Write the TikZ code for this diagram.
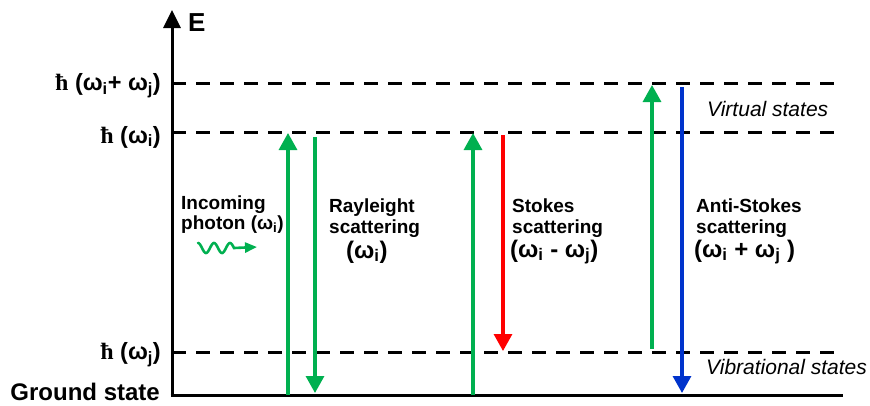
\documentclass[tikz,border=0pt]{standalone}
\usepackage{fontspec}
\setmainfont{Liberation Sans}
\newfontfamily\hbarfont{Liberation Serif}
\usetikzlibrary{arrows.meta}
\definecolor{ramangreen}{HTML}{00B050}
\definecolor{ramanred}{HTML}{FF0000}
\definecolor{ramanblue}{HTML}{0033CC}
\newcommand\lw[1]{\textsubscript{#1}}
\newcommand\hb{{\hbarfont\bfseries ħ}}
\tikzset{
  axisline/.style={line width=3pt},
  level/.style={line width=3pt, dash pattern=on 14pt off 10pt},
  trans/.style={line width=3.2pt, -{Triangle[length=17pt,width=18pt]}},
  lvllabel/.style={inner sep=0pt, anchor=east, font=\fontsize{23.5}{25}\selectfont\bfseries},
  lbl/.style={inner sep=0pt, anchor=base west, font=\fontsize{19}{21}\selectfont\bfseries},
  freq/.style={inner sep=0pt, anchor=west, font=\fontsize{24}{26}\selectfont\bfseries},
  statelbl/.style={inner sep=0pt, anchor=base west, font=\fontsize{21}{23}\selectfont\itshape},
}
\begin{document}
\begin{tikzpicture}[x=1pt,y=-1pt]
\useasboundingbox (0,0) rectangle (870,405);

% energy axis and ground state
\coordinate (origin) at (172,395);
\coordinate (axistop) at (172,10);
\coordinate (groundend) at (843,395);
\draw[axisline, -{Triangle[length=18pt,width=17pt]}] (origin) -- (axistop);
\draw[axisline] ([xshift=-1.5pt]origin) -- (groundend);
\node[inner sep=0pt, anchor=base west, font=\fontsize{26}{28}\selectfont\bfseries] (E) at (188,31) {E};

% energy levels
\coordinate (vsum) at (172,83);
\coordinate (vsumend) at (843,83);
\coordinate (vi) at (172,132);
\coordinate (viend) at (840,132);
\coordinate (vj) at (172,352);
\coordinate (vjend) at (843,352);
\draw[level] (vsum) -- (vsumend);
\draw[level] (vi) -- (viend);
\draw[level] (vj) -- (vjend);

\node[lvllabel] (lsum) at (161,86) {\hb\ (ω\lw{i}+ ω\lw{j})};
\node[lvllabel] (li) at (161,137) {\hb\ (ω\lw{i})};
\node[lvllabel] (lj) at (161,355) {\hb\ (ω\lw{j})};
\node[inner sep=0pt, anchor=base east, font=\fontsize{24}{26}\selectfont\bfseries] (ground) at (160,400) {Ground state};

% Rayleigh scattering
\coordinate (r1a) at (288,395);
\coordinate (r1b) at (288,133);
\coordinate (r2a) at (315,137);
\coordinate (r2b) at (315,393);
\draw[trans, ramangreen] (r1a) -- (r1b);
\draw[trans, ramangreen] (r2a) -- (r2b);

% Stokes scattering
\coordinate (s1a) at (473,395);
\coordinate (s1b) at (473,133);
\coordinate (s2a) at (503,135);
\coordinate (s2b) at (503,351);
\draw[trans, ramangreen] (s1a) -- (s1b);
\draw[trans, ramanred] (s2a) -- (s2b);

% anti-Stokes scattering
\coordinate (a1a) at (652,349);
\coordinate (a1b) at (652,85);
\coordinate (a2a) at (682,87);
\coordinate (a2b) at (682,393);
\draw[trans, ramangreen] (a1a) -- (a1b);
\draw[trans, ramanblue] (a2a) -- (a2b);

% incoming photon
\node[lbl] (inc1) at (181,209) {Incoming};
\node[lbl] (inc2) at (181,229) {photon (ω\lw{i})};
\coordinate (waveend) at (257,247);
\draw[ramangreen, line width=2.6pt, line cap=round, -{Triangle[length=12pt,width=10pt]}]
  plot[domain=0:36, samples=90, smooth] ({198+\x},{248-5*cos(360*\x/16)}) -- (waveend);

% scattering labels
\node[lbl] (ray1) at (329,212) {Rayleight};
\node[lbl] (ray2) at (329,233) {scattering};
\node[freq] (ray3) at (346,252) {(ω\lw{i})};

\node[lbl] (sto1) at (512,212) {Stokes};
\node[lbl] (sto2) at (512,233) {scattering};
\node[freq] (sto3) at (510,252) {(ω\lw{i} - ω\lw{j})};

\node[lbl] (ant1) at (696,212) {Anti-Stokes};
\node[lbl] (ant2) at (696,233) {scattering};
\node[freq] (ant3) at (694,252) {(ω\lw{i} + ω\lw{j} )};

% state names
\node[statelbl] (virt) at (707,116) {Virtual states};
\node[statelbl] (vib) at (706,374) {Vibrational states};
\end{tikzpicture}
\end{document}
